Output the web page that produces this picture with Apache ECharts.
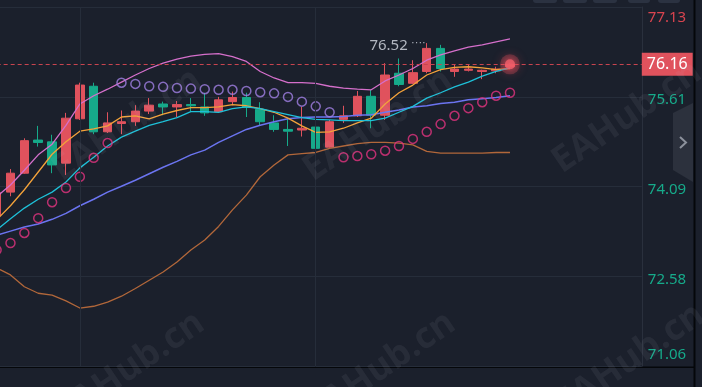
<!DOCTYPE html>
<html>
<head>
<meta charset="utf-8">
<script src="https://cdn.jsdelivr.net/npm/echarts@6/dist/echarts.min.js"></script>
<style>
html, body { margin: 0; padding: 0; background: #1b202c; overflow: hidden; }
/* the first candle is cut by the left edge, so the canvas starts a little off-page */
#main { position: absolute; left: -11px; top: 0; width: 713px; height: 387px; }
</style>
</head>
<body>
<div id="main"></div>
<script>
// candles (oldest first)
const opens  = [73.60, 74.00, 74.32, 74.88, 74.85, 74.49, 75.24, 75.79, 75.02, 75.16,
                75.19, 75.37, 75.49, 75.44, 75.48, 75.44, 75.36, 75.53, 75.60, 75.40,
                75.17, 75.06, 75.05, 75.10, 74.76, 75.23, 75.29, 75.62, 75.30, 76.01,
                75.84, 76.04, 76.43, 76.04, 76.06, 76.04, 76.05, 76.12];
const closes = [73.99, 74.32, 74.87, 74.84, 74.46, 75.25, 75.81, 75.02, 75.17, 75.19,
                75.37, 75.47, 75.44, 75.48, 75.46, 75.34, 75.56, 75.60, 75.43, 75.19,
                75.06, 75.03, 75.08, 74.74, 75.19, 75.29, 75.62, 75.30, 75.98, 75.82,
                76.02, 76.43, 76.09, 76.08, 76.08, 76.06, 76.08, 76.16];
const lows   = [73.53, 73.93, 74.31, 74.77, 74.32, 74.29, 75.22, 74.98, 75.00, 74.98,
                75.12, 75.32, 75.30, 75.27, 75.36, 75.29, 75.35, 75.47, 75.27, 75.13,
                75.02, 74.78, 74.94, 74.60, 74.75, 75.17, 75.27, 75.08, 75.22, 75.79,
                75.83, 76.01, 76.04, 75.95, 76.04, 75.91, 76.01, 76.10];
const highs  = [74.04, 74.39, 74.91, 75.12, 74.97, 75.34, 75.85, 75.85, 75.35, 75.38,
                75.47, 75.59, 75.53, 75.54, 75.59, 75.68, 75.61, 75.70, 75.68, 75.52,
                75.30, 75.24, 75.44, 75.23, 75.22, 75.46, 75.71, 75.73, 76.18, 76.26,
                76.23, 76.52, 76.49, 76.15, 76.15, 76.07, 76.12, 76.18];

// indicators
const bollUpper = [73.92, 74.12, 74.37, 74.63, 74.81, 75.13, 75.49, 75.63, 75.74, 75.86,
                   75.98, 76.09, 76.18, 76.25, 76.30, 76.33, 76.34, 76.29, 76.21, 76.04,
                   75.93, 75.85, 75.85, 75.84, 75.79, 75.76, 75.74, 75.73, 75.88, 75.98,
                   76.09, 76.23, 76.32, 76.39, 76.45, 76.49, 76.54, 76.59];
const bollMid   = [73.27, 73.34, 73.41, 73.46, 73.54, 73.64, 73.77, 73.88, 74.00, 74.10,
                   74.20, 74.31, 74.42, 74.52, 74.63, 74.71, 74.84, 74.95, 75.06, 75.13,
                   75.19, 75.24, 75.26, 75.27, 75.27, 75.28, 75.30, 75.31, 75.35, 75.39,
                   75.44, 75.46, 75.50, 75.52, 75.56, 75.58, 75.60, 75.63];
const bollLower = [72.72, 72.60, 72.40, 72.29, 72.26, 72.16, 72.04, 72.07, 72.14, 72.24,
                   72.37, 72.51, 72.65, 72.82, 73.02, 73.19, 73.42, 73.70, 73.95, 74.26,
                   74.46, 74.63, 74.65, 74.67, 74.74, 74.78, 74.82, 74.84, 74.84, 74.83,
                   74.80, 74.69, 74.66, 74.66, 74.66, 74.66, 74.67, 74.67];
const ma5  = [73.53, 73.77, 74.04, 74.34, 74.64, 74.85, 75.03, 75.07, 75.12, 75.27,
              75.29, 75.24, 75.32, 75.38, 75.43, 75.43, 75.44, 75.48, 75.46, 75.41,
              75.35, 75.25, 75.12, 75.01, 75.02, 75.08, 75.17, 75.25, 75.49, 75.68,
              75.81, 75.98, 76.07, 76.11, 76.12, 76.10, 76.07, 76.09];
const ma10 = [73.36, 73.55, 73.73, 73.88, 74.00, 74.17, 74.41, 74.59, 74.78, 74.93,
              75.03, 75.13, 75.19, 75.26, 75.36, 75.36, 75.35, 75.41, 75.44, 75.41,
              75.36, 75.31, 75.26, 75.23, 75.22, 75.21, 75.21, 75.21, 75.25, 75.35,
              75.45, 75.59, 75.68, 75.78, 75.86, 75.96, 76.04, 76.10];
const sar  = [73.02, 73.14, 73.31, 73.56, 73.83, 74.07, 74.26, 74.58, 74.83, 75.85,
              75.83, 75.79, 75.78, 75.76, 75.75, 75.74, 75.73, 75.73, 75.71, 75.69,
              75.67, 75.61, 75.53, 75.45, 75.35, 74.59, 74.61, 74.64, 74.70, 74.78,
              74.90, 75.02, 75.15, 75.29, 75.42, 75.52, 75.63, 75.68];

const yTickLabels = ['71.06', '72.58', '74.09', '75.61', '77.13'];
const slotCount = 47; // visible bars incl. empty space on the right
const dayBreaks = [6, 23];

const RED = '#e0525d';
const GREEN = '#16aa8a';
const SHIFT = 11; // canvas offset vs. page, used for the overlay graphics

const categories = [];
for (let i = 0; i < slotCount; i++) categories.push(String(i));

const candles = opens.map((o, i) => [o, closes[i], lows[i], highs[i]]);
const last = closes.length - 1;
let hiIdx = 0;
highs.forEach((h, i) => { if (h > highs[hiIdx]) hiIdx = i; });

const sarData = sar.map((v, i) => ({
    value: [i, v],
    itemStyle: { borderColor: v > closes[i] ? '#a07fe4' : '#e2337f' }
}));

function lineSeries (name, data, color, width)
{
    return {
        name: name,
        type: 'line',
        data: data,
        showSymbol: false,
        symbol: 'none',
        silent: true,
        z: 3,
        lineStyle: { color: color, width: width }
    };
}

function px (x) { return x + SHIFT; }

const chart = echarts.init(document.getElementById('main'), null, { renderer: 'canvas' });

const wmStyle = { fill: 'rgba(200,205,215,0.075)', font: 'bold 36px "Open Sans", sans-serif', align: 'center', verticalAlign: 'middle' };
const wmPos = [[127, 125], [378, 125], [627, 117], [130, 368], [381, 368], [630, 360]];
const tabs = [[533, 24], [563, 24], [593, 24], [628, 22], [658, 22]];

chart.setOption({
    animation: false,
    backgroundColor: '#1b202c',
    grid: { left: 0.66, right: 60.2, top: 7, bottom: 21 },
    xAxis: {
        type: 'category',
        data: categories,
        boundaryGap: true,
        axisLine: { show: false },
        axisTick: { show: false },
        axisLabel: { show: false },
        splitLine: { show: false }
    },
    yAxis: {
        type: 'value',
        position: 'right',
        min: 71.06,
        max: 77.13,
        interval: (77.13 - 71.06) / 4,
        axisLine: { show: true, lineStyle: { color: '#2a303d', width: 1 } },
        axisTick: { show: false },
        splitLine: { show: true, lineStyle: { color: '#262d3a', width: 1 } },
        axisLabel: {
            margin: 6,
            fontFamily: 'Noto Sans',
            fontSize: 15,
            color: GREEN,
            verticalAlign: 'middle',
            formatter: function (v, i)
            {
                const t = yTickLabels[i];
                if (i === yTickLabels.length - 1) return '{top|' + t + '}';
                if (i === 0) return '{bot|' + t + '}';
                return '{mid|' + t + '}';
            },
            rich: {
                top: { color: '#d9444f', fontSize: 15, fontFamily: 'Noto Sans', padding: [22, 0, 0, 0] },
                mid: { color: GREEN, fontSize: 15, fontFamily: 'Noto Sans', padding: [6, 0, 0, 0] },
                bot: { color: GREEN, fontSize: 15, fontFamily: 'Noto Sans', padding: [0, 0, 22, 0] }
            }
        }
    },
    series: [
        {
            // day separators behind the candles
            type: 'line',
            data: [],
            silent: true,
            z: 1,
            markLine: {
                silent: true,
                symbol: ['none', 'none'],
                label: { show: false },
                lineStyle: { color: '#262d3a', width: 1, type: 'solid' },
                data: dayBreaks.map(d => ({ xAxis: d }))
            }
        },
        {
            type: 'candlestick',
            data: candles,
            barWidth: 9,
            z: 2,
            itemStyle: {
                color: RED,
                color0: GREEN,
                borderColor: RED,
                borderColor0: GREEN,
                borderWidth: 1
            },
            markLine: {
                silent: true,
                symbol: ['none', 'none'],
                lineStyle: { color: '#c9444f', width: 1, type: [4, 3] },
                label: {
                    position: 'end',
                    distance: 0,
                    formatter: closes[last].toFixed(2),
                    color: '#ffffff',
                    fontFamily: 'Noto Sans',
                    fontSize: 16,
                    lineHeight: 17,
                    backgroundColor: RED,
                    padding: [3, 5, 3, 5]
                },
                data: [{ yAxis: closes[last] }]
            },
            markPoint: {
                silent: true,
                symbol: 'circle',
                symbolSize: 0,
                data: [{ coord: [hiIdx, highs[hiIdx]], value: highs[hiIdx] }],
                label: {
                    show: true,
                    position: 'left',
                    distance: 1,
                    formatter: '{v|' + highs[hiIdx].toFixed(2) + '} {d|····}',
                    rich: {
                        v: { color: '#b3b7c1', fontSize: 15, fontFamily: 'Noto Sans', lineHeight: 18, padding: [6, 0, 0, 0] },
                        d: { color: '#b3b7c1', fontSize: 11, lineHeight: 10, verticalAlign: 'top', padding: [3, 0, 0, 0] }
                    }
                }
            }
        },
        lineSeries('BOLL_UP', bollUpper, '#d56fcb', 1.3),
        lineSeries('BOLL_MID', bollMid, '#6b74f0', 1.5),
        lineSeries('BOLL_LOW', bollLower, '#b2673a', 1.3),
        lineSeries('MA5', ma5, '#f3a23a', 1.3),
        lineSeries('MA10', ma10, '#1ec0d8', 1.3),
        {
            type: 'scatter',
            data: sarData,
            symbol: 'circle',
            symbolSize: 9,
            silent: true,
            z: 4,
            itemStyle: { color: 'rgba(0,0,0,0)', borderWidth: 1.5 }
        },
        {
            // soft halo behind the live price dot
            type: 'scatter',
            data: [[last, closes[last]]],
            symbolSize: 20,
            silent: true,
            z: 5,
            itemStyle: { color: 'rgba(230,80,92,0.35)', shadowBlur: 10, shadowColor: 'rgba(230,80,92,0.8)' }
        },
        {
            type: 'scatter',
            data: [[last, closes[last]]],
            symbolSize: 10,
            silent: true,
            z: 6,
            itemStyle: { color: '#f0606b', shadowBlur: 6, shadowColor: 'rgba(245,80,95,0.9)' }
        }
    ],
    graphic: [
        // toolbar tabs peeking in at the top
        ...tabs.map(t => ({ type: 'rect', shape: { x: px(t[0]), y: -5, width: t[1], height: 8, r: 3 }, style: { fill: '#2b3241' } })),
        // side handle
        { type: 'polygon', shape: { points: [[px(673), 113], [px(693), 103], [px(693), 182], [px(673), 170]] }, style: { fill: '#2c313d' } },
        { type: 'polyline', shape: { points: [[px(680), 137], [px(686), 142.5], [px(680), 148]] }, style: { stroke: '#8c919c', lineWidth: 2, fill: null } },
        // black frame lines
        { type: 'rect', shape: { x: 0, y: 366.5, width: px(695), height: 1.5 }, style: { fill: '#05070a' } },
        { type: 'rect', shape: { x: px(693.5), y: 0, width: 2, height: 387 }, style: { fill: '#05070a' } },
        // watermark
        ...wmPos.map(p => ({
            type: 'text', x: px(p[0]), y: p[1], rotation: 0.6, z: 100, silent: true,
            style: Object.assign({ text: 'EAHub.cn' }, wmStyle)
        }))
    ]
});
</script>
</body>
</html>
